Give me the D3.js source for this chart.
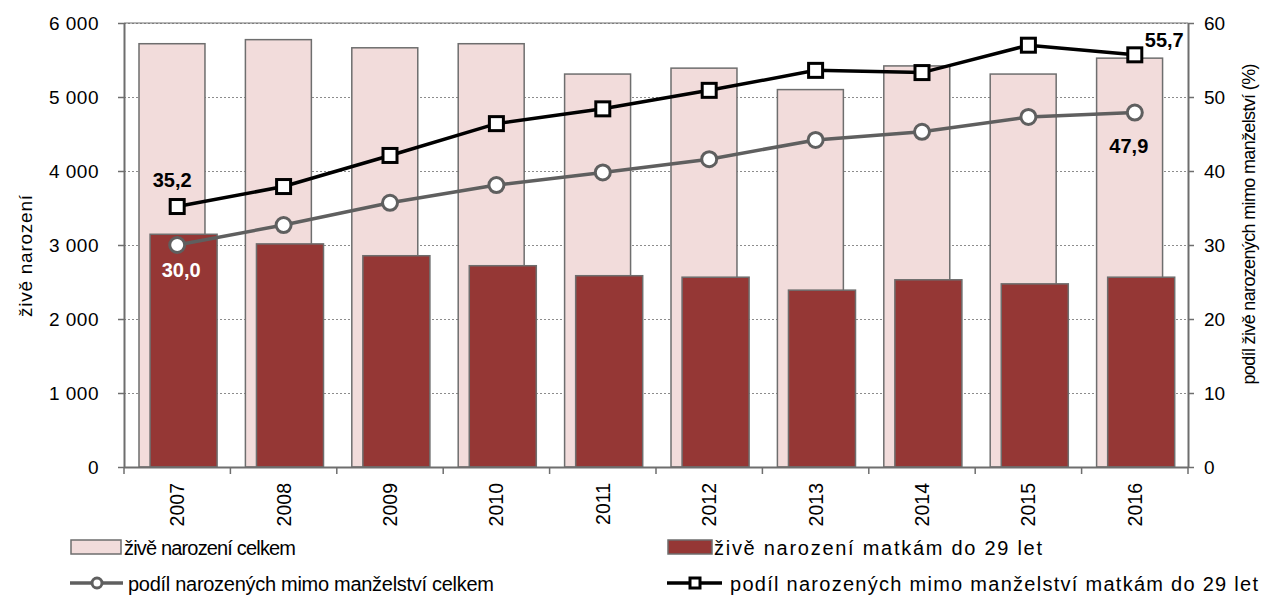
<!DOCTYPE html>
<html><head><meta charset="utf-8">
<script src="https://cdn.jsdelivr.net/npm/d3@7"></script>
<style>
body{margin:0;background:#fff;}
text{font-family:"Liberation Sans",Arial,sans-serif;fill:#000;}
</style></head>
<body><svg id="c" width="1262" height="609"></svg>
<script>
const years = ["2007","2008","2009","2010","2011","2012","2013","2014","2015","2016"];
const birthsTotal = [5720, 5775, 5665, 5720, 5310, 5390, 5100, 5420, 5310, 5525];
const birthsYoung = [3145, 3015, 2855, 2720, 2585, 2565, 2390, 2530, 2475, 2565];
const shareTotal = [30.0, 32.7, 35.7, 38.1, 39.8, 41.6, 44.2, 45.3, 47.3, 47.9];
const shareYoung = [35.2, 37.9, 42.1, 46.4, 48.4, 50.9, 53.6, 53.3, 57.0, 55.7];
const leftTicks = [0,1000,2000,3000,4000,5000,6000];
const rightTicks = [0,10,20,30,40,50,60];
const seriesNames = ["živě narození celkem","živě narození matkám do 29 let","podíl narozených mimo manželství celkem","podíl narozených mimo manželství matkám do 29 let"];

const svg = d3.select("#c");
const L=124, R=1188, T=23, B=467;
const FS = "19px";
const x = d3.scaleBand().domain(years).range([L,R]).paddingInner(0).paddingOuter(0);
const yL = d3.scaleLinear().domain([0,6000]).range([B,T]);
const yR = d3.scaleLinear().domain([0,60]).range([B,T]);
const bw = x.bandwidth();
const fmt = v => d3.format(",")(v).replace(/,/g," ");
const cz = v => d3.format(".1f")(v).replace(".",",");

// gridlines
svg.append("g").selectAll("line").data(leftTicks.filter(d=>d>0)).join("line")
  .attr("x1",L).attr("x2",R).attr("y1",d=>yL(d)+0.5).attr("y2",d=>yL(d)+0.5)
  .attr("stroke","#8c8c8c").attr("stroke-width",1).attr("stroke-dasharray","2,2");
svg.append("line").attr("x1",L).attr("x2",R).attr("y1",T).attr("y2",T).attr("stroke","#6e6e6e").attr("stroke-width",1);

// bars
svg.append("g").selectAll("rect").data(years).join("rect")
  .attr("x",d=>x(d)+bw*0.141).attr("width",bw*0.62)
  .attr("y",(d,i)=>yL(birthsTotal[i])).attr("height",(d,i)=>B-yL(birthsTotal[i]))
  .attr("fill","#F2DCDB").attr("stroke","#6e6e6e").attr("stroke-width",1.5);
svg.append("g").selectAll("rect").data(years).join("rect")
  .attr("x",d=>x(d)+bw*0.245).attr("width",bw*0.63)
  .attr("y",(d,i)=>yL(birthsYoung[i])).attr("height",(d,i)=>B-yL(birthsYoung[i]))
  .attr("fill","#953735").attr("stroke","#6e6e6e").attr("stroke-width",1.5);

// axes
const axL = svg.append("g").attr("transform",`translate(${L},0)`)
  .call(d3.axisLeft(yL).tickValues(leftTicks).tickFormat(fmt).tickSize(6).tickPadding(19));
const axR = svg.append("g").attr("transform",`translate(${R},0)`)
  .call(d3.axisRight(yR).tickValues(rightTicks).tickSize(6).tickPadding(10));
const axB = svg.append("g").attr("transform",`translate(0,${B})`)
  .call(d3.axisBottom(x).tickSize(0).tickPadding(0));
[axL,axR,axB].forEach(a=>{
  a.selectAll("path").attr("stroke","#6e6e6e").attr("stroke-width",2);
  a.selectAll("line").attr("stroke","#6e6e6e").attr("stroke-width",1.5);
  a.selectAll("text").style("font-size",FS).style("font-family","'Liberation Sans',Arial,sans-serif").attr("fill","#000");
});
axL.selectAll("text").style("letter-spacing","0.5px");
axL.select("path").attr("d",`M0.5,${B}V${T}`);
axR.select("path").attr("d",`M0.5,${B}V${T}`);
axB.select("path").attr("d",`M${L},0.5H${R}`);
axB.selectAll("text").attr("transform","rotate(-90)").attr("text-anchor","end")
  .attr("x",-16).attr("y",0).attr("dy","0.36em").style("font-size","19.5px");
// boundary ticks on x axis
svg.append("g").selectAll("line").data(years.concat(["end"])).join("line")
  .attr("x1",(d,i)=>L+i*bw).attr("x2",(d,i)=>L+i*bw).attr("y1",B).attr("y2",B+7)
  .attr("stroke","#6e6e6e").attr("stroke-width",1.5);

// axis titles
svg.append("text").attr("transform",`translate(32,256) rotate(-90)`)
  .attr("text-anchor","middle").style("font-size",FS)
  .attr("textLength",122).attr("lengthAdjust","spacing").text("živě narození");
svg.append("text").attr("transform",`translate(1255,224) rotate(-90)`)
  .attr("text-anchor","middle").style("font-size","18px")
  .attr("textLength",321).attr("lengthAdjust","spacing").text("podíl živě narozených mimo manželství (%)");

// lines
const cx = d => x(d)+bw/2;
const lineT = d3.line().x((d,i)=>cx(years[i])).y(d=>yR(d));
svg.append("path").datum(shareTotal).attr("d",lineT).attr("fill","none").attr("stroke","#5f5f5f").attr("stroke-width",3.5);
svg.append("path").datum(shareYoung).attr("d",lineT).attr("fill","none").attr("stroke","#000").attr("stroke-width",3.5);
svg.append("g").selectAll("circle").data(shareTotal).join("circle")
  .attr("cx",(d,i)=>cx(years[i])).attr("cy",d=>yR(d)).attr("r",7.5)
  .attr("fill","#fff").attr("stroke","#5f5f5f").attr("stroke-width",3);
svg.append("g").selectAll("rect").data(shareYoung).join("rect")
  .attr("x",(d,i)=>cx(years[i])-7).attr("y",d=>yR(d)-7).attr("width",14).attr("height",14)
  .attr("fill","#fff").attr("stroke","#000").attr("stroke-width",3);

// data labels
const lab = (txt,xx,yy,fill,anchor)=>svg.append("text").attr("x",xx).attr("y",yy).attr("text-anchor",anchor||"middle")
  .style("font-size","20px").style("font-weight","bold").style("fill",fill).text(txt);
lab(cz(shareYoung[0]), cx(years[0])-5, yR(shareYoung[0])-20, "#000");
lab(cz(shareTotal[0]), cx(years[0])+4, yR(shareTotal[0])+32, "#fff");
lab(cz(shareTotal[9]), cx(years[9])-6, yR(shareTotal[9])+40, "#000");
lab(cz(shareYoung[9]), cx(years[9])+10, yR(shareYoung[9])-8, "#000", "start");

// legend
const lg = svg.append("g");
lg.append("rect").attr("x",71).attr("y",540).attr("width",50).attr("height",14).attr("fill","#F2DCDB").attr("stroke","#6e6e6e").attr("stroke-width",1.5);
lg.append("rect").attr("x",668).attr("y",540).attr("width",44).attr("height",14).attr("fill","#953735").attr("stroke","#6e6e6e").attr("stroke-width",1.5);
lg.append("line").attr("x1",70).attr("x2",123).attr("y1",583).attr("y2",583).attr("stroke","#5f5f5f").attr("stroke-width",3.5);
lg.append("circle").attr("cx",97).attr("cy",583).attr("r",5).attr("fill","#fff").attr("stroke","#5f5f5f").attr("stroke-width",3);
lg.append("line").attr("x1",667).attr("x2",722).attr("y1",583).attr("y2",583).attr("stroke","#000").attr("stroke-width",3.5);
lg.append("rect").attr("x",690).attr("y",578).attr("width",10).attr("height",10).attr("fill","#fff").attr("stroke","#000").attr("stroke-width",3);
const lt = [[124,555,seriesNames[0],172],[714,555,seriesNames[1],328],[128,591,seriesNames[2],366],[730,591,seriesNames[3],528]];
lg.selectAll("text").data(lt).join("text").attr("x",d=>d[0]).attr("y",d=>d[1])
  .style("font-size","20px").attr("textLength",d=>d[3]).attr("lengthAdjust","spacing").text(d=>d[2]);
</script></body></html>
